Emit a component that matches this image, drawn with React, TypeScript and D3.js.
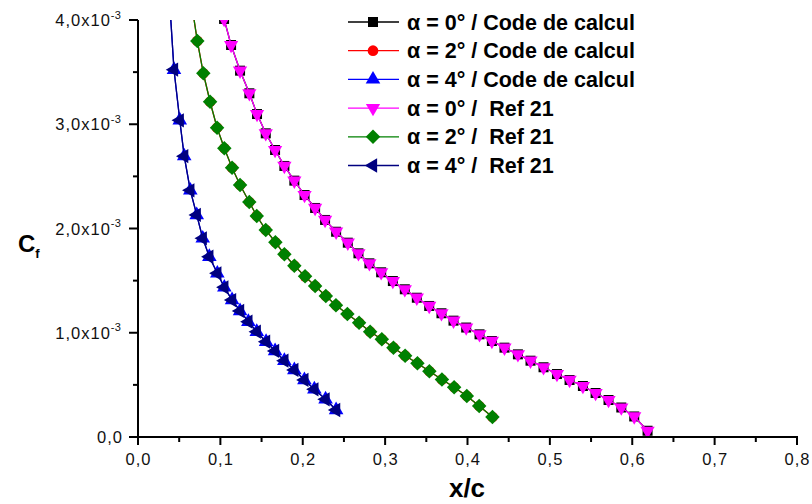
import React from 'react';
import * as d3 from 'd3';

// Skin-friction coefficient Cf (in units of 1e-3) versus chordwise position x/c.
// Reference results (Ref 21) for three angles of attack.
const xRef0 = [0.1045, 0.1130, 0.1239, 0.1352, 0.1445, 0.1551, 0.1664, 0.1777, 0.1898, 0.2022, 0.2150, 0.2271, 0.2405, 0.2547, 0.2676, 0.2809, 0.2952, 0.3094, 0.3239, 0.3385, 0.3535, 0.3684, 0.3830, 0.3984, 0.4146, 0.4296, 0.4449, 0.4612, 0.4765, 0.4923, 0.5086, 0.5239, 0.5401, 0.5555, 0.5712, 0.5867, 0.6024, 0.6186];
const cfRef0 = [4.01, 3.760, 3.514, 3.297, 3.098, 2.913, 2.753, 2.600, 2.459, 2.321, 2.197, 2.082, 1.969, 1.864, 1.762, 1.666, 1.580, 1.496, 1.417, 1.336, 1.257, 1.187, 1.116, 1.050, 0.985, 0.921, 0.857, 0.793, 0.732, 0.669, 0.604, 0.547, 0.489, 0.422, 0.355, 0.283, 0.197, 0.060];

const xRef2 = [0.0656, 0.0720, 0.0793, 0.0875, 0.0960, 0.1048, 0.1142, 0.1239, 0.1351, 0.1442, 0.1551, 0.1668, 0.1777, 0.1898, 0.2028, 0.2150, 0.2280, 0.2403, 0.2542, 0.2684, 0.2818, 0.2960, 0.3101, 0.3243, 0.3392, 0.3537, 0.3690, 0.3838, 0.3992, 0.4142, 0.4303];
const cfRef2 = [4.13, 3.799, 3.489, 3.216, 2.967, 2.769, 2.583, 2.417, 2.254, 2.120, 1.986, 1.868, 1.753, 1.643, 1.541, 1.448, 1.353, 1.263, 1.180, 1.096, 1.010, 0.937, 0.857, 0.780, 0.707, 0.630, 0.551, 0.477, 0.393, 0.297, 0.192];

const xRef4 = [0.0383, 0.0437, 0.0507, 0.0561, 0.0635, 0.0713, 0.0786, 0.0866, 0.0963, 0.1048, 0.1142, 0.1239, 0.1340, 0.1442, 0.1555, 0.1664, 0.1777, 0.1898, 0.2020, 0.2141, 0.2277, 0.2405];
const cfRef4 = [4.19, 3.523, 3.038, 2.694, 2.366, 2.130, 1.906, 1.729, 1.570, 1.436, 1.314, 1.209, 1.106, 1.010, 0.914, 0.825, 0.732, 0.643, 0.547, 0.458, 0.362, 0.259];

// Results of the calculation code; they coincide with the reference curves.
const xCode0 = xRef0;
const cfCode0 = cfRef0;
const xCode2 = xRef2;
const cfCode2 = cfRef2;
const xCode4 = xRef4;
const cfCode4 = cfRef4;

const seriesLabels = [
  'α = 0° / Code de calcul',
  'α = 2° / Code de calcul',
  'α = 4° / Code de calcul',
  'α = 0° /  Ref 21',
  'α = 2° /  Ref 21',
  'α = 4° /  Ref 21',
];

const xTicks = [0, 0.1, 0.2, 0.3, 0.4, 0.5, 0.6, 0.7, 0.8];
const yTicks = [0, 1, 2, 3, 4];

const W = 812;
const H = 504;
const left = 138;
const right = 797;
const top = 20;
const bottom = 437;

type Marker = 'square' | 'circle' | 'up' | 'down' | 'diamond' | 'left';

interface Series {
  xs: number[];
  ys: number[];
  color: string;
  marker: Marker;
  label: string;
}

const series: Series[] = [
  { xs: xCode0, ys: cfCode0, color: '#000000', marker: 'square', label: seriesLabels[0] },
  { xs: xCode2, ys: cfCode2, color: '#FF0000', marker: 'circle', label: seriesLabels[1] },
  { xs: xCode4, ys: cfCode4, color: '#0000FF', marker: 'up', label: seriesLabels[2] },
  { xs: xRef0, ys: cfRef0, color: '#FF00FF', marker: 'down', label: seriesLabels[3] },
  { xs: xRef2, ys: cfRef2, color: '#008000', marker: 'diamond', label: seriesLabels[4] },
  { xs: xRef4, ys: cfRef4, color: '#000080', marker: 'left', label: seriesLabels[5] },
];

const symbolPath = (m: Marker): { d: string; rot: number } => {
  switch (m) {
    case 'square':
      return { d: d3.symbol(d3.symbolSquare, 100)()!, rot: 0 };
    case 'circle':
      return { d: d3.symbol(d3.symbolCircle, 90)()!, rot: 0 };
    case 'up':
      return { d: d3.symbol(d3.symbolTriangle, 92)()!, rot: 0 };
    case 'down':
      return { d: d3.symbol(d3.symbolTriangle, 88)()!, rot: 180 };
    case 'diamond':
      return { d: d3.symbol(d3.symbolSquare, 105)()!, rot: 45 };
    case 'left':
      return { d: d3.symbol(d3.symbolTriangle, 88)()!, rot: -90 };
  }
};

const MarkerShape = ({ m, x, y, color }: { m: Marker; x: number; y: number; color: string }) => {
  const { d, rot } = symbolPath(m);
  return <path d={d} transform={`translate(${x},${y}) rotate(${rot})`} fill={color} />;
};

export default function App() {
  const xScale = d3.scaleLinear().domain([0, 0.8]).range([left, right]);
  const yScale = d3.scaleLinear().domain([0, 4]).range([bottom, top]);
  const line = d3
    .line<[number, number]>()
    .x((p) => xScale(p[0]))
    .y((p) => yScale(p[1]));

  const xMinor = d3.range(0.05, 0.8, 0.1);
  const yMinor = d3.range(0.5, 4, 1);
  const fmt = (v: number) => d3.format('.1f')(v).replace('.', ',');

  const font = "'Liberation Sans', Arial, sans-serif";
  const legendY0 = 22;
  const legendStep = 28.7;

  return (
    <svg
      width={W}
      height={H}
      style={{ position: 'absolute', left: 0, top: 0, background: '#fff' }}
      fontFamily={font}
    >
      <defs>
        <clipPath id="plot-area">
          <rect x={left} y={top} width={right - left + 2} height={bottom - top} />
        </clipPath>
      </defs>

      {/* data */}
      <g clipPath="url(#plot-area)">
        {series.map((s, i) => {
          const pts = s.xs.map((x, k) => [x, s.ys[k]] as [number, number]);
          return (
            <g key={i}>
              <path d={line(pts)!} fill="none" stroke={s.color} strokeWidth={1.3} />
              {pts.map((p, k) => (
                <MarkerShape key={k} m={s.marker} x={xScale(p[0])} y={yScale(p[1])} color={s.color} />
              ))}
            </g>
          );
        })}
      </g>

      {/* axes */}
      <g stroke="#000" strokeWidth={2}>
        <line x1={left} x2={left} y1={top} y2={bottom + 1} />
        <line x1={left - 1} x2={right + 1} y1={bottom} y2={bottom} />
        {xTicks.map((t) => (
          <line key={`xt${t}`} x1={xScale(t)} x2={xScale(t)} y1={bottom} y2={bottom + 8} />
        ))}
        {xMinor.map((t) => (
          <line key={`xm${t}`} x1={xScale(t)} x2={xScale(t)} y1={bottom} y2={bottom + 5} />
        ))}
        {yTicks.map((t) => (
          <line key={`yt${t}`} x1={left - 9} x2={left} y1={yScale(t)} y2={yScale(t)} />
        ))}
        {yMinor.map((t) => (
          <line key={`ym${t}`} x1={left - 5} x2={left} y1={yScale(t)} y2={yScale(t)} />
        ))}
      </g>

      {/* tick labels */}
      <g fontSize={16.5} fill="#111" letterSpacing={1}>
        {xTicks.map((t) => (
          <text key={`xl${t}`} x={xScale(t) + 0.5} y={465} textAnchor="middle">
            {fmt(t)}
          </text>
        ))}
        {yTicks.map((t) =>
          t === 0 ? (
            <text key={`yl${t}`} x={123} y={yScale(t) + 6} textAnchor="end">
              0,0
            </text>
          ) : (
            <text key={`yl${t}`} x={121} y={yScale(t) + 6} textAnchor="end">
              {`${fmt(t)}x10`}
              <tspan fontSize={11} dy={-7.5} letterSpacing={0.2}>
                -3
              </tspan>
            </text>
          )
        )}
      </g>

      {/* axis titles */}
      <text x={467} y={497} textAnchor="middle" fontSize={26} fontWeight="bold" fill="#000">
        x/c
      </text>
      <text x={18} y={252} fontSize={24} fontWeight="bold" fill="#000">
        C
        <tspan fontSize={13} dy={6}>
          f
        </tspan>
      </text>

      {/* legend */}
      <g>
        {series.map((s, i) => {
          const y = legendY0 + i * legendStep;
          return (
            <g key={`lg${i}`}>
              <line x1={348} x2={399} y1={y} y2={y} stroke={s.color} strokeWidth={1.3} />
              <MarkerShape m={s.marker} x={373} y={y} color={s.color} />
              <text
                x={407}
                y={y + 7.5}
                fontSize={21.5}
                fontWeight="bold"
                fill="#000"
                style={{ whiteSpace: 'pre' }}
              >
                {s.label}
              </text>
            </g>
          );
        })}
      </g>
    </svg>
  );
}
